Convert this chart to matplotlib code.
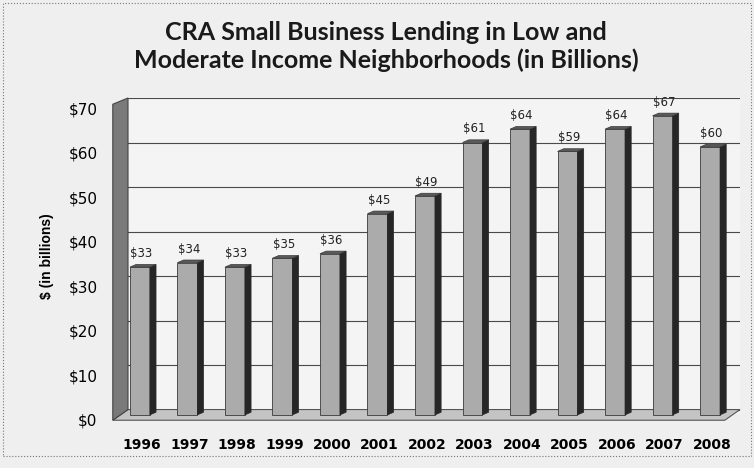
import matplotlib.pyplot as plt
from matplotlib.patches import Polygon, Rectangle
from matplotlib.transforms import ScaledTranslation

years = ['1996', '1997', '1998', '1999', '2000', '2001', '2002',
         '2003', '2004', '2005', '2006', '2007', '2008']
values = [33, 34, 33, 35, 36, 45, 49, 61, 64, 59, 64, 67, 60]
yticks = [0, 10, 20, 30, 40, 50, 60, 70]

fig = plt.figure(figsize=(7.54, 4.68), dpi=100, facecolor='#efefef')
# $0 (front) at y=414px, 4.45 px per unit
ax = fig.add_axes([128 / 754, 1 - 414 / 468, 612 / 754, 316 / 468], facecolor='#f4f4f4')

x0, x1 = -0.29, 12.59
ax.set_xlim(x0, x1)
ax.set_ylim(0, 71)

back = 1.0  # back wall is shifted up by this much (depth)

# gridlines on back wall
for t in yticks:
    ax.plot([x0, x1], [t + back, t + back], color='#4a4a4a', lw=0.8, zorder=1)

# floor and left wall
wdx, wdy = -0.32, -1.4
floor = [(x0, back), (x1, back), (x1 + wdx, wdy), (x0 + wdx, wdy)]
ax.add_patch(Polygon(floor, closed=True, fc='#c4c4c4', ec='#555555', lw=0.8,
                     zorder=2, clip_on=False))
wall = [(x0, back), (x0, 70 + back), (x0 + wdx, 70 + back + wdy), (x0 + wdx, wdy)]
ax.add_patch(Polygon(wall, closed=True, fc='#7a7a7a', ec='#444444', lw=0.8,
                     zorder=2, clip_on=False))

# 3d-ish bars
fl, fr = -0.25, 0.17      # front face relative to tick
ddx, ddy = 0.13, 0.6      # depth offset
base = -0.2
for i, v in enumerate(values):
    ax.bar(i + (fl + fr) / 2, v - base, bottom=base, width=fr - fl, color='#ababab',
           edgecolor='#3a3a3a', linewidth=0.6, zorder=3, clip_on=False)
    side = [(i + fr, base), (i + fr + ddx, base + ddy), (i + fr + ddx, v + ddy), (i + fr, v)]
    ax.add_patch(Polygon(side, closed=True, fc='#262626', ec='#262626', lw=0.5,
                         zorder=3, clip_on=False))
    top = [(i + fl, v), (i + fl + ddx, v + ddy), (i + fr + ddx, v + ddy), (i + fr, v)]
    ax.add_patch(Polygon(top, closed=True, fc='#5a5a5a', ec='#3a3a3a', lw=0.5, zorder=3))
    ax.text(i + (fl + fr) / 2 + 0.03, v + ddy + 1.0, f'${v}', ha='center', va='bottom',
            fontsize=8.5, fontfamily='DejaVu Sans', color='#222222', zorder=4)

for s in ax.spines.values():
    s.set_visible(False)

ax.set_yticks(yticks)
ax.set_yticklabels([f'${t}' for t in yticks], fontsize=11, fontfamily='DejaVu Sans')
ax.tick_params(axis='y', length=0, pad=22)
off = ScaledTranslation(0, -0.06, fig.dpi_scale_trans)
for lab in ax.get_yticklabels():
    lab.set_transform(lab.get_transform() + off)

ax.set_xticks(range(len(years)))
ax.set_xticklabels(years, fontsize=10, fontweight='bold', fontfamily='DejaVu Sans')
ax.tick_params(axis='x', length=0, pad=17)

ax.set_ylabel('$ (in billions)', fontsize=10, fontweight='bold', labelpad=10,
              fontfamily='Liberation Sans')

fig.text(386 / 754, 1 - 32 / 468, 'CRA Small Business Lending in Low and',
         ha='center', va='center', fontsize=18, fontweight='bold', fontfamily='Lato',
         color='#1a1a1a')
fig.text(386 / 754, 1 - 60 / 468, 'Moderate Income Neighborhoods (in Billions)',
         ha='center', va='center', fontsize=18, fontweight='bold', fontfamily='Lato',
         color='#1a1a1a')

fig.patches.append(Rectangle((3 / 754, 12 / 468), 748 / 754, 453 / 468, transform=fig.transFigure,
                             fill=False, ec='#777777', lw=0.8, ls=':'))

fig.savefig('out.png', dpi=100, facecolor=fig.get_facecolor())
